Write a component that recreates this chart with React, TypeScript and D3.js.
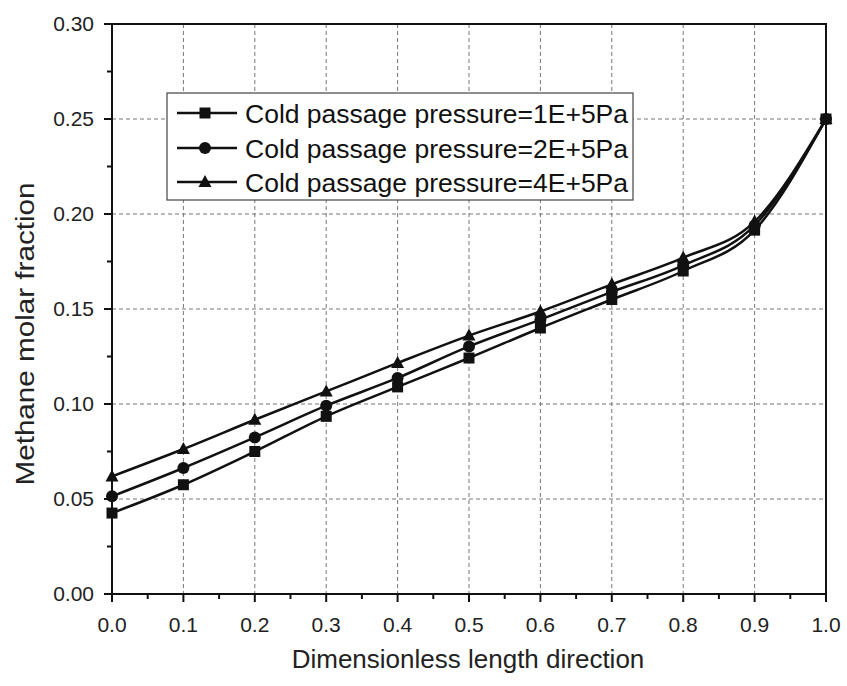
import React from "react";
import * as d3 from "d3";

const positions = [0.0, 0.1, 0.2, 0.3, 0.4, 0.5, 0.6, 0.7, 0.8, 0.9, 1.0];
const pressure1E5 = [0.0426, 0.0575, 0.075, 0.0935, 0.109, 0.1242, 0.140, 0.155, 0.170, 0.1915, 0.25];
const pressure2E5 = [0.0514, 0.0663, 0.0824, 0.0991, 0.1137, 0.1303, 0.1444, 0.159, 0.173, 0.194, 0.25];
const pressure4E5 = [0.0619, 0.0763, 0.0917, 0.1066, 0.1216, 0.136, 0.1487, 0.163, 0.177, 0.196, 0.25];
const seriesLabels = [
  "Cold passage pressure=1E+5Pa",
  "Cold passage pressure=2E+5Pa",
  "Cold passage pressure=4E+5Pa",
];
const markerShapes = ["square", "circle", "triangle"];
const xTicks = [0.0, 0.1, 0.2, 0.3, 0.4, 0.5, 0.6, 0.7, 0.8, 0.9, 1.0];
const yTicks = [0.0, 0.05, 0.1, 0.15, 0.2, 0.25, 0.3];

const W = 847;
const H = 686;
const left = 112;
const right = 826;
const top = 24;
const bottom = 594;
const font = "'Liberation Sans', Arial, sans-serif";

function Marker({ shape, x, y }: { shape: string; x: number; y: number }) {
  if (shape === "square") return <rect x={x - 5.5} y={y - 5.5} width={11} height={11} fill="#111" />;
  if (shape === "circle") return <circle cx={x} cy={y} r={6} fill="#111" />;
  return <path d={`M${x},${y - 7} L${x + 6.5},${y + 5} L${x - 6.5},${y + 5} Z`} fill="#111" />;
}

export default function App() {
  const x = d3.scaleLinear().domain([0, 1]).range([left, right]);
  const y = d3.scaleLinear().domain([0, 0.3]).range([bottom, top]);
  const series = [pressure1E5, pressure2E5, pressure4E5];
  const line = d3
    .line<number>()
    .x((_, i) => x(positions[i]))
    .y((v) => y(v))
    .curve(d3.curveMonotoneX);

  const xMinor = d3.range(0.05, 1, 0.1);
  const yMinor = d3.range(0.025, 0.3, 0.05);

  const legendX = 167;
  const legendY = 93;
  const legendW = 466;
  const legendH = 107;
  const rowY = [113, 148, 182];

  return (
    <svg width={W} height={H} style={{ position: "absolute", left: 0, top: 0, background: "#fff" }}>
      <rect width={W} height={H} fill="#fff" />
      {/* grid */}
      {xTicks.slice(1, -1).map((t) => (
        <line key={"gx" + t} x1={x(t)} x2={x(t)} y1={top} y2={bottom} stroke="#777" strokeWidth={1} strokeDasharray="4,3" />
      ))}
      {yTicks.slice(1, -1).map((t) => (
        <line key={"gy" + t} x1={left} x2={right} y1={y(t)} y2={y(t)} stroke="#777" strokeWidth={1} strokeDasharray="4,3" />
      ))}
      {/* series */}
      {series.map((s, k) => (
        <g key={"s" + k}>
          <path d={line(s) || ""} fill="none" stroke="#111" strokeWidth={2.5} />
          {s.map((v, i) => (
            <Marker key={i} shape={markerShapes[k]} x={x(positions[i])} y={y(v)} />
          ))}
        </g>
      ))}
      {/* frame */}
      <rect x={left} y={top} width={right - left} height={bottom - top} fill="none" stroke="#111" strokeWidth={2} />
      {/* x ticks */}
      {xTicks.map((t) => (
        <g key={"xt" + t}>
          <line x1={x(t)} x2={x(t)} y1={bottom} y2={bottom + 8} stroke="#111" strokeWidth={2} />
          <text x={x(t)} y={632} textAnchor="middle" fontFamily={font} fontSize={21} fill="#222">
            {t.toFixed(1)}
          </text>
        </g>
      ))}
      {xMinor.map((t) => (
        <line key={"xm" + t} x1={x(t)} x2={x(t)} y1={bottom} y2={bottom + 5} stroke="#111" strokeWidth={2} />
      ))}
      {/* y ticks */}
      {yTicks.map((t) => (
        <g key={"yt" + t}>
          <line x1={left - 8} x2={left} y1={y(t)} y2={y(t)} stroke="#111" strokeWidth={2} />
          <text x={left - 18} y={y(t) + 7} textAnchor="end" fontFamily={font} fontSize={21} fill="#222">
            {t.toFixed(2)}
          </text>
        </g>
      ))}
      {yMinor.map((t) => (
        <line key={"ym" + t} x1={left - 5} x2={left} y1={y(t)} y2={y(t)} stroke="#111" strokeWidth={2} />
      ))}
      {/* axis titles */}
      <text x={468} y={668} textAnchor="middle" fontFamily={font} fontSize={26} fill="#222">
        Dimensionless length direction
      </text>
      <text
        transform="translate(34,334) rotate(-90)"
        textAnchor="middle"
        fontFamily={font}
        fontSize={26}
        fill="#222"
        textLength={303}
        lengthAdjust="spacingAndGlyphs"
      >
        Methane molar fraction
      </text>
      {/* legend */}
      <rect x={legendX} y={legendY} width={legendW} height={legendH} fill="#fff" stroke="#444" strokeWidth={1.2} />
      {seriesLabels.map((label, k) => (
        <g key={"lg" + k}>
          <line x1={177} x2={237} y1={rowY[k]} y2={rowY[k]} stroke="#111" strokeWidth={2.5} />
          <Marker shape={markerShapes[k]} x={205} y={rowY[k]} />
          <text x={245} y={rowY[k] + 10} fontFamily={font} fontSize={26.5} fill="#111">
            {label}
          </text>
        </g>
      ))}
    </svg>
  );
}
